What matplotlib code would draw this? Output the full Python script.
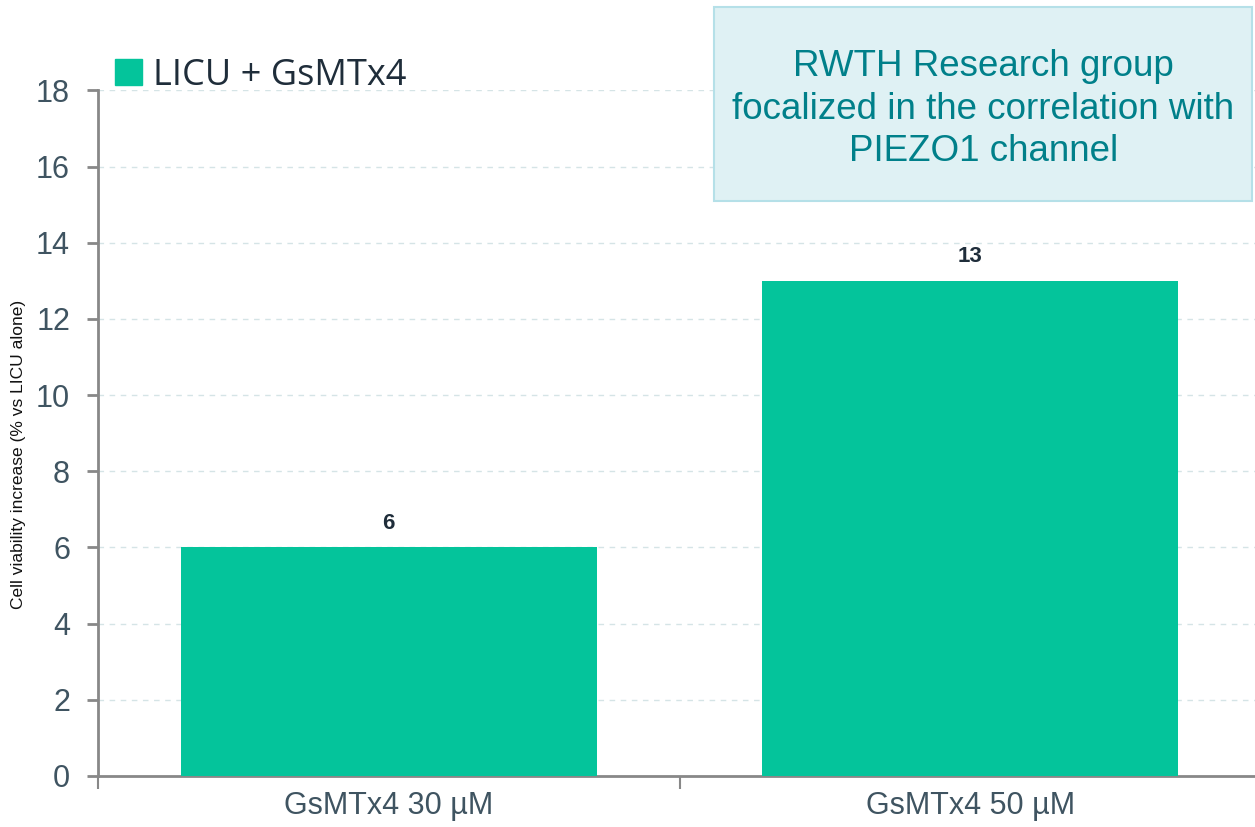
import numpy as np
import matplotlib.pyplot as plt
from matplotlib.patches import Patch, Rectangle

categorias = ["GsMTx4 30 µM", "GsMTx4 50 µM"]
valores = [6, 13]
serie = "LICU + GsMTx4"
y_ticks = [0, 2, 4, 6, 8, 10, 12, 14, 16, 18]
nota = "RWTH Research group\nfocalized in the correlation with\nPIEZO1 channel"

VERDE = "#04c49b"
GRIS_TXT = "#3f5461"
OSCURO = "#1f2d3a"

fig = plt.figure(figsize=(12.55, 8.27), dpi=100)
ax = fig.add_axes([0.078, 0.0617, 0.927, 0.829])

x = np.arange(len(categorias))
ax.bar(x, valores, width=0.715, color=VERDE, zorder=3)
for xi, v in zip(x, valores):
    ax.text(xi, v + 0.63, str(v), ha="center", va="center",
            fontsize=16, fontweight="bold", color=OSCURO, family="Liberation Sans")

ax.set_xlim(-0.5, len(categorias) - 0.5)
ax.set_ylim(0, 18)
ax.set_yticks(y_ticks)
ax.set_xticks(x)
ax.set_xticklabels(categorias)
ax.set_xticks([-0.5, 0.5, 1.5], minor=True)
ax.tick_params(axis="x", which="major", length=0, pad=11, labelsize=22, labelcolor=GRIS_TXT)
ax.tick_params(axis="x", which="minor", length=9, width=1.5, color="#888888")
ax.tick_params(axis="y", length=8, width=2, color="#888888", pad=12,
               labelsize=22, labelcolor=GRIS_TXT)
for lab in ax.get_xticklabels() + ax.get_yticklabels():
    lab.set_family("Liberation Sans")

ax.grid(axis="y", linestyle=(0, (4, 4)), color="#d5e4e6", linewidth=1, zorder=0)
for s in ["top", "right"]:
    ax.spines[s].set_visible(False)
for s in ["left", "bottom"]:
    ax.spines[s].set_color("#888888")
    ax.spines[s].set_linewidth(2)

fig.text(0.015, 0.45, "Cell viability increase (% vs LICU alone)", rotation=90,
         ha="center", va="center", fontsize=12.5, color="#111111", family="Liberation Sans")

ax.legend(handles=[Patch(color=VERDE, label=serie)], loc="upper left",
          bbox_to_anchor=(-0.013, 1.095), frameon=False,
          handlelength=0.75, handleheight=0.75, handletextpad=0.3,
          prop={"family": "Open Sans", "size": 26}, labelcolor=OSCURO)

# recuadro de nota
fig.patches.append(Rectangle((0.569, 0.757), 0.4287, 0.2346, transform=fig.transFigure,
                             facecolor="#dff1f4", edgecolor="#b5e0e8", linewidth=1.5))
fig.text(0.7835, 0.868, nota, ha="center", va="center", fontsize=26.5,
         color="#00808a", family="Liberation Sans", linespacing=1.28)

fig.savefig("out.png", dpi=100)
